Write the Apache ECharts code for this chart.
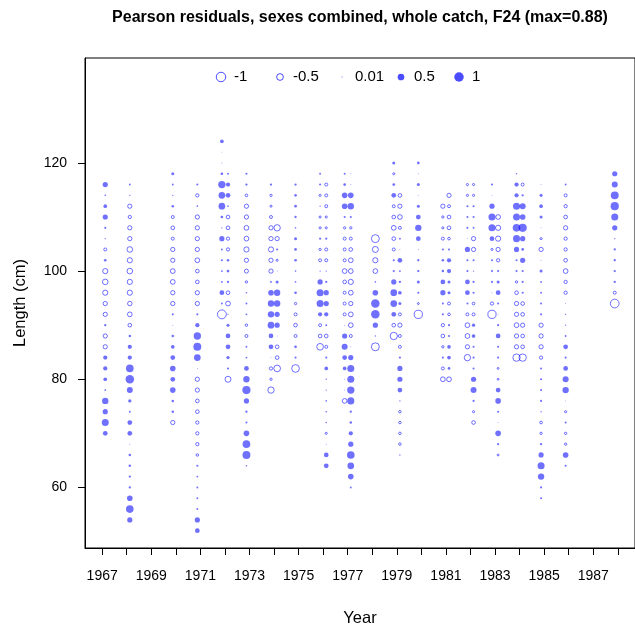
<!DOCTYPE html>
<html>
<head>
<meta charset="utf-8">
<script src="https://cdn.jsdelivr.net/npm/echarts@6/dist/echarts.min.js"></script>
<style>
  html, body { margin: 0; padding: 0; background: #fff; }
  #chart { width: 635px; height: 632px; }
</style>
</head>
<body>
<div id="chart"></div>
<script>
// time of each sample column (year + season midpoint) and its top length bin (cm)
const sampleTimes = [1967.125, 1968.125, 1969.875, 1970.875, 1971.875, 1972.125, 1972.875,
  1973.875, 1974.125, 1974.875, 1975.875, 1976.125, 1976.875, 1977.125, 1978.125, 1978.875,
  1979.125, 1979.875, 1980.875, 1981.125, 1981.875, 1982.125, 1982.875, 1983.125, 1983.875,
  1984.125, 1984.875, 1985.875, 1987.875]
const topLengths = [116, 116, 118, 116, 124, 118, 118, 116, 108, 116, 118, 116, 118, 118, 106,
  120, 114, 120, 112, 114, 116, 116, 116, 110, 118, 116, 116, 116, 118]

// Pearson residuals per column, from the top length down in 2 cm steps
const res1967s1 = [0.3, 0.03, 0.15, 0.3, 0.05, 0.02, -0.1, 0.08, -0.3, -0.35, -0.3, -0.2, -0.2, 0.06, -0.2, -0.2, 0.2, 0.2, 0.15, 0.04, 0.45, 0.3, 0.55, 0.25]
const res1968s1 = [0.04, 0.02, -0.2, -0.12, -0.2, -0.2, -0.35, -0.3, -0.35, -0.3, -0.3, -0.22, -0.25, -0.15, 0.07, 0.2, 0.2, 0.65, 0.8, 0.4, 0.12, 0.04, 0.25, 0.25, 0.01, 0.07, 0.07, 0.06, 0.06, 0.35, 0.65, 0.3]
const res1969s4 = [0.1, 0.04, 0.02, 0.07, -0.1, -0.15, -0.1, -0.2, -0.2, -0.25, -0.25, -0.2, -0.2, 0.05, 0.01, 0.07, 0.15, 0.25, 0.35, 0.25, 0.35, 0.07, 0.07, -0.2]
const res1970s4 = [0.05, -0.12, 0.03, -0.2, -0.2, -0.2, -0.2, -0.25, -0.15, -0.15, -0.2, -0.2, 0.05, 0.2, 0.6, 0.7, 0.5, 0.01, -0.2, -0.2, -0.15, -0.15, -0.12, -0.12, -0.12, -0.07, 0.05, 0.04, 0.04, 0.04, 0.04, 0.3, 0.25]
const res1971s4 = [0.15, 0.01, 0.01, 0.08, 0.6, 0.5, 0.5, 0.08, 0.02, 0.3, 0.04, 0.05, 0.04, 0.04, 0.25, 0.04, -0.88]
const res1972s1 = [0.04, 0.2, 0.25, 0.03, -0.15, -0.15, -0.12, -0.12, 0.07, 0.08, 0.06, -0.15, -0.25, 0.02, 0.1, 0.25, 0.25, 0.12, 0.05, -0.4]
const res1972s4 = [0.05, 0.06, -0.08, -0.2, -0.2, -0.25, -0.25, -0.3, -0.2, -0.18, -0.06, 0.03, 0.04, 0.04, -0.07, -0.1, 0.04, 0.04, 0.25, 0.45, 0.75, 0.3, 0.06, 0.05, 0.35, 0.65, 0.7, 0.03]
const res1973s4 = [0.06, -0.06, -0.05, -0.1, -0.2, -0.2, -0.3, -0.2, -0.2, 0.04, 0.35, 0.45, 0.45, 0.5, 0.25, 0.25, 0.01, -0.12, -0.06, -0.45]
const res1974s1 = [-0.45, -0.2, 0.05, -0.05, 0.01, 0.1, 0.45, 0.45, 0.3, 0.3, 0.01, -0.15, -0.15, -0.5]
const res1974s4 = [0.06, 0.07, 0.08, 0.06, 0.03, 0.1, 0.08, 0.08, 0.03, 0.03, 0.08, -0.06, -0.1, -0.15, -0.1, 0.08, 0.05, -0.65]
const res1975s4 = [0.04, 0.05, -0.05, 0.02, -0.05, -0.05, 0.05, -0.06, -0.1, 0.02, 0.3, 0.55, 0.55, 0.2, -0.1, -0.15, -0.5]
const res1976s1 = [-0.1, -0.1, -0.1, -0.05, -0.05, 0.05, -0.1, -0.1, 0.02, 0.05, 0.3, 0.3, 0.2, 0.04, -0.15, -0.1, 0.05, 0.15, 0.02, 0.02, 0.03, 0.03, 0.03, -0.05, 0.01, 0.25, 0.25]
const res1976s4 = [0.04, 0.08, 0.35, 0.35, 0.05, -0.06, -0.1, -0.1, -0.1, -0.25, -0.15, -0.1, -0.1, -0.1, 0.01, 0.3, 0.4, 0.25, 0.15, 0.01, 0.01, -0.25]
const res1977s1 = [0.01, 0.01, 0.35, 0.45, 0.05, -0.06, -0.1, -0.15, -0.25, -0.25, -0.3, -0.25, -0.2, -0.25, -0.25, -0.1, 0.01, 0.3, 0.55, 0.55, 0.6, 0.55, 0.06, 0.07, 0.2, 0.3, 0.65, 0.5, 0.35, 0.04]
const res1978s1 = [-0.7, -0.4, -0.3, -0.25, 0.03, 0.35, 0.8, 0.8, 0.3, 0.02, -0.7]
const res1978s4 = [0.1, -0.05, 0.08, 0.25, -0.1, -0.15, -0.25, -0.15, -0.1, 0.05, 0.05, 0.3, 0.5, 0.5, 0.25, -0.15, -0.6]
const res1979s1 = [-0.15, -0.2, -0.25, -0.1, 0.04, 0.01, 0.25, 0.04, 0.06, 0.15, 0.1, -0.1, -0.2, -0.1, -0.1, 0.05, 0.3, 0.3, 0.25, 0.02, -0.07, -0.07, -0.07, -0.07, 0.02]
const res1979s4 = [0.08, 0.01, 0.1, 0.01, 0.1, 0.25, 0.45, 0.25, 0.01, 0.06, 0.06, 0.1, 0.05, -0.04, -0.75]
const res1980s4 = [-0.2, -0.06, -0.05, -0.1, 0.05, 0.07, 0.07, 0.25, 0.3, 0.05, 0.05, -0.12, -0.15, -0.06, 0.05, -0.1, -0.25]
const res1981s1 = [-0.2, -0.1, -0.15, -0.15, -0.08, 0.05, 0.2, 0.2, 0.1, 0.1, -0.1, -0.08, 0.05, 0.05, 0.15, 0.15, 0.08, -0.25]
const res1981s4 = [-0.05, -0.05, 0.05, 0.05, 0.05, 0.01, 0.3, 0.05, 0.05, 0.25, 0.25, 0.05, -0.1, -0.25, -0.25, -0.2, -0.45]
const res1982s1 = [-0.05, -0.05, 0.05, 0.05, 0.04, -0.2, -0.2, 0.05, 0.02, 0.05, 0.05, -0.08, -0.1, 0.12, 0.15, 0.05, 0.05, 0.05, 0.3, 0.4, 0.05, -0.05, -0.15]
const res1982s4 = [0.05, 0.01, 0.3, 0.55, 0.55, 0.25, -0.05, 0.05, 0.05, 0.05, 0.01, -0.12, -0.75]
const res1983s1 = [-0.25, -0.3, -0.3, -0.2, -0.12, 0.05, 0.1, 0.25, 0.05, 0.01, 0.05, 0.25, 0.05, 0.05, -0.04, -0.04, 0.25, 0.35, 0.05, 0.01, 0.35, 0.05, -0.04]
const res1983s4 = [0.02, 0.2, 0.2, 0.55, 0.55, 0.65, 0.55, 0.3, 0.05, 0.05, -0.06, -0.15, -0.2, -0.2, -0.25, -0.2, -0.2, -0.6]
const res1984s1 = [-0.1, 0.06, 0.4, 0.35, 0.75, 0.3, 0.08, 0.3, 0.05, 0.05, 0.05, -0.15, -0.15, -0.2, -0.15, -0.15, -0.6]
const res1984s4 = [0.01, 0.1, 0.15, 0.1, 0.01, -0.05, -0.2, 0.01, 0.1, 0.04, 0.04, 0.05, 0.05, -0.2, -0.2, -0.2, -0.12, 0.05, 0.05, 0.05, 0.05, 0.02, -0.08, -0.06, 0.06, 0.3, 0.55, 0.45, 0.05, 0.05]
const res1985s4 = [0.04, -0.1, -0.12, -0.15, -0.2, -0.12, -0.12, -0.15, -0.25, -0.12, -0.12, 0.01, 0.02, 0.02, 0.04, 0.25, 0.05, 0.25, 0.4, 0.45, 0.01, -0.05, 0.05, -0.06, -0.06, 0.35, 0.05]
const res1987s4 = [0.3, 0.4, 0.7, 0.75, 0.55, 0.3, 0.02, 0.06, 0.06, 0.06, 0.06, -0.1, -0.85]

const residualColumns = [res1967s1, res1968s1, res1969s4, res1970s4, res1971s4, res1972s1, res1972s4,
  res1973s4, res1974s1, res1974s4, res1975s4, res1976s1, res1976s4, res1977s1, res1978s1, res1978s4,
  res1979s1, res1979s4, res1980s4, res1981s1, res1981s4, res1982s1, res1982s4, res1983s1, res1983s4,
  res1984s1, res1984s4, res1985s4, res1987s4]

const yearTicks = [1967, 1968, 1969, 1970, 1971, 1972, 1973, 1974, 1975, 1976, 1977, 1978, 1979,
  1980, 1981, 1982, 1983, 1984, 1985, 1986, 1987, 1988]
const yearLabels = [1967, 1969, 1971, 1973, 1975, 1977, 1979, 1981, 1983, 1985, 1987]
const lengthTicks = [60, 80, 100, 120]
const legendValues = [-1, -0.5, 0.01, 0.5, 1]

const BLUE = 'rgba(0,0,255,0.7)'
const FONT = 'Liberation Sans, Arial, sans-serif'
const bubbleSize = v => 9.5 * Math.sqrt(Math.abs(v))

const positive = []
const negative = []
residualColumns.forEach((col, c) => {
  col.forEach((v, i) => {
    const point = [sampleTimes[c], topLengths[c] - 2 * i, v]
    if (v < 0) negative.push(point)
    else positive.push(point)
  })
})

// legend drawn as graphic elements above the bubbles
const legendX = [221, 280, 342, 401, 459]
const legendGraphics = []
legendValues.forEach((v, i) => {
  legendGraphics.push({
    type: 'circle',
    x: legendX[i], y: 77,
    shape: { cx: 0, cy: 0, r: Math.max(bubbleSize(v) / 2, 0.5) },
    style: v < 0 ? { fill: 'none', stroke: BLUE, lineWidth: 1 } : { fill: BLUE }
  })
  legendGraphics.push({
    type: 'text',
    x: legendX[i] + 13, y: 77,
    style: { text: String(v), font: '15px ' + FONT, fill: '#000', textVerticalAlign: 'middle' }
  })
})

const chart = echarts.init(document.getElementById('chart'))
chart.setOption({
  animation: false,
  graphic: [
    {
      type: 'text', x: 360, y: 18,
      style: {
        text: 'Pearson residuals, sexes combined, whole catch, F24 (max=0.88)',
        font: 'bold 16px ' + FONT, fill: '#000', textAlign: 'center', textVerticalAlign: 'middle'
      }
    }
  ].concat(legendGraphics),
  grid: {
    left: 85, top: 58, width: 552, height: 494,
    show: true, borderColor: '#000', borderWidth: 1, backgroundColor: 'transparent'
  },
  xAxis: {
    type: 'value', min: 1966.3, max: 1988.7,
    name: 'Year', nameLocation: 'middle', nameGap: 62,
    nameTextStyle: { fontSize: 16.5, color: '#000', fontFamily: FONT },
    axisLine: { show: true, lineStyle: { color: '#000' } },
    axisTick: { show: true, length: 7, customValues: yearTicks, lineStyle: { color: '#000' } },
    axisLabel: {
      customValues: yearLabels, margin: 21, fontSize: 14, color: '#000', fontFamily: FONT,
      formatter: v => String(v)
    },
    splitLine: { show: false }
  },
  yAxis: {
    type: 'value', min: 48.8, max: 139.4,
    name: 'Length (cm)', nameLocation: 'middle', nameGap: 56, nameRotate: 90,
    nameTextStyle: { fontSize: 16.5, color: '#000', fontFamily: FONT },
    axisLine: { show: true, lineStyle: { color: '#000' } },
    axisTick: { show: true, length: 7, customValues: lengthTicks, lineStyle: { color: '#000' } },
    axisLabel: {
      customValues: lengthTicks, margin: 18, fontSize: 14, color: '#000', fontFamily: FONT,
      formatter: v => String(v)
    },
    splitLine: { show: false }
  },
  series: [
    {
      type: 'scatter', data: positive, symbol: 'circle', silent: true,
      symbolSize: d => bubbleSize(d[2]),
      itemStyle: { color: BLUE }
    },
    {
      type: 'scatter', data: negative, symbol: 'circle', silent: true,
      symbolSize: d => bubbleSize(d[2]),
      itemStyle: { color: 'rgba(0,0,0,0)', borderColor: BLUE, borderWidth: 1 }
    }
  ]
})
</script>
</body>
</html>
